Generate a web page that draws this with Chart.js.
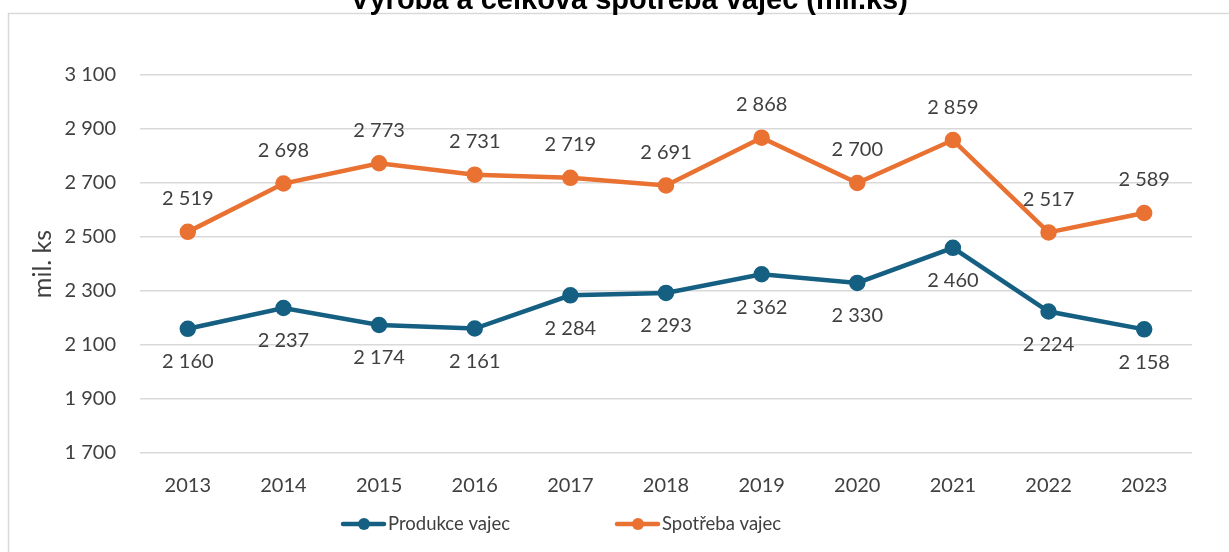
<!DOCTYPE html>
<html>
<head>
<meta charset="utf-8">
<script src="https://cdn.jsdelivr.net/npm/chart.js@4/dist/chart.umd.min.js"></script>
<style>
html,body{margin:0;padding:0;background:#fff;}
#wrap{width:1229px;height:552px;position:relative;}
</style>
</head>
<body>
<div id="wrap"><canvas id="c" width="1229" height="552"></canvas></div>
<script>
const chartTitle = "Výroba a celková spotřeba vajec (mil.ks)";
const yAxisTitle = "mil. ks";
const years = ["2013","2014","2015","2016","2017","2018","2019","2020","2021","2022","2023"];
const produkce = [2160, 2237, 2174, 2161, 2284, 2293, 2362, 2330, 2460, 2224, 2158];
const spotreba = [2519, 2698, 2773, 2731, 2719, 2691, 2868, 2700, 2859, 2517, 2589];
const seriesNames = ["Produkce vajec", "Spotřeba vajec"];
const yMin = 1700, yMax = 3100, yStep = 200;

const BLUE = "#156082", ORANGE = "#E97132";
const FONT = "Lato, 'Open Sans', sans-serif";

function fmt(v){ return String(Math.round(v)).replace(/\B(?=(\d{3})+(?!\d))/g, " "); }

const framePlugin = {
  id: "frame",
  beforeDraw(chart){
    const ctx = chart.ctx;
    ctx.save();
    ctx.fillStyle = "#fff";
    ctx.fillRect(0,0,chart.width,chart.height);
    ctx.strokeStyle = "#d9d9d9";
    ctx.lineWidth = 1.5;
    ctx.strokeRect(8.5, 13.5, chart.width + 20, chart.height + 20);
    ctx.fillStyle = "#000";
    ctx.font = "bold 29px 'Liberation Sans', Arial, sans-serif";
    ctx.textAlign = "center";
    ctx.textBaseline = "alphabetic";
    ctx.fillText(chartTitle, 629, 9);
    ctx.restore();
  }
};

const labelPlugin = {
  id: "dlabels",
  afterDatasetsDraw(chart){
    const ctx = chart.ctx;
    ctx.save();
    ctx.font = "20px " + FONT;
    ctx.fillStyle = "#404040";
    ctx.textAlign = "center";
    ctx.textBaseline = "middle";
    chart.data.datasets.forEach((ds, i) => {
      const meta = chart.getDatasetMeta(i);
      const dir = ds.labelPos === "above" ? -1 : 1;
      meta.data.forEach((pt, j) => {
        ctx.fillText(fmt(ds.data[j]), pt.x, pt.y + dir * 33);
      });
    });
    ctx.restore();
  }
};

const legendPlugin = {
  id: "customLegend",
  afterDraw(chart){
    const ctx = chart.ctx;
    const starts = [343, 617];
    const y = 524;
    ctx.save();
    chart.data.datasets.forEach((ds, i) => {
      const x0 = starts[i];
      ctx.strokeStyle = ds.borderColor;
      ctx.lineWidth = 4.5;
      ctx.lineCap = "round";
      ctx.beginPath();
      ctx.moveTo(x0, y);
      ctx.lineTo(x0 + 41, y);
      ctx.stroke();
      ctx.fillStyle = ds.borderColor;
      ctx.beginPath();
      ctx.arc(x0 + 21, y, 6, 0, Math.PI*2);
      ctx.fill();
      ctx.fillStyle = "#404040";
      ctx.font = "18.5px " + FONT;
      ctx.textAlign = "left";
      ctx.textBaseline = "middle";
      ctx.fillText(ds.label, x0 + 45, y);
    });
    ctx.restore();
  }
};

new Chart(document.getElementById("c"), {
  type: "line",
  data: {
    labels: years,
    datasets: [
      { label: seriesNames[0], data: produkce, borderColor: BLUE, backgroundColor: BLUE,
        pointBackgroundColor: BLUE, pointBorderColor: BLUE, borderWidth: 4.5, pointRadius: 6,
        pointHoverRadius: 6, tension: 0, labelPos: "below" },
      { label: seriesNames[1], data: spotreba, borderColor: ORANGE, backgroundColor: ORANGE,
        pointBackgroundColor: ORANGE, pointBorderColor: ORANGE, borderWidth: 4.5, pointRadius: 6,
        pointHoverRadius: 6, tension: 0, labelPos: "above" }
    ]
  },
  options: {
    responsive: false,
    animation: false,
    events: [],
    layout: { padding: { left: 25, right: 37, top: 75, bottom: 0 } },
    plugins: { legend: { display: false }, title: { display: false }, tooltip: { enabled: false } },
    scales: {
      x: {
        offset: true,
        grid: { display: false, drawTicks: false },
        border: { display: false },
        ticks: { color: "#404040", font: { family: FONT, size: 20 }, padding: 21 },
        afterFit(axis){ axis.height = 99; }
      },
      y: {
        min: yMin, max: yMax,
        ticks: { stepSize: yStep, color: "#404040", font: { family: FONT, size: 20 }, padding: 24,
                 callback: v => fmt(v) },
        grid: { color: "#d9d9d9", lineWidth: 1.5, drawTicks: false },
        border: { display: false },
        title: { display: true, text: yAxisTitle, color: "#404040", font: { family: FONT, size: 25 },
                 padding: { top: 3, bottom: 0 } },
        afterFit(axis){ axis.width = 115; }
      }
    }
  },
  plugins: [framePlugin, labelPlugin, legendPlugin]
});
</script>
</body>
</html>
